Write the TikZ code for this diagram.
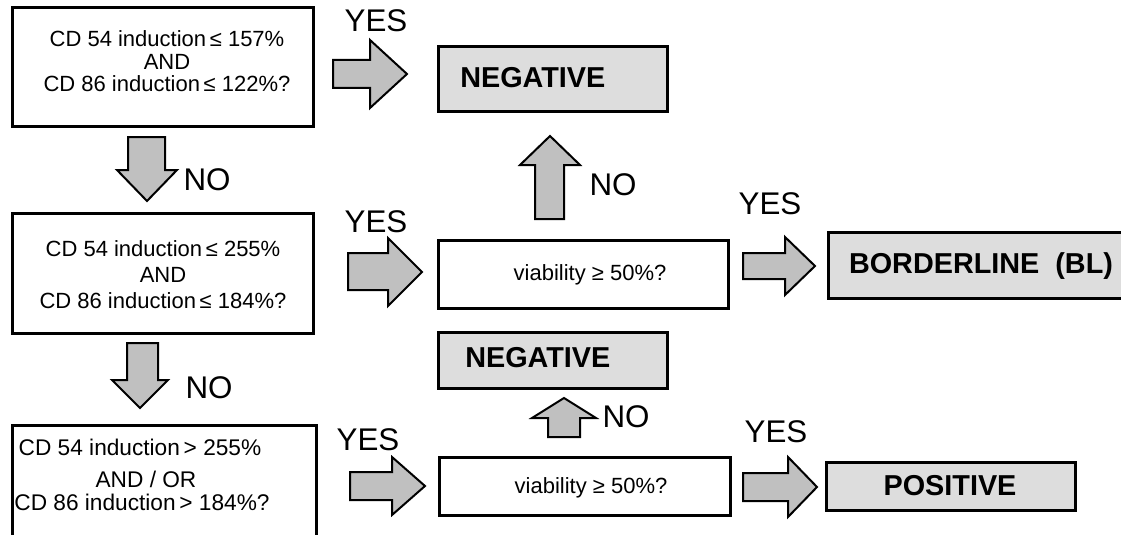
\documentclass[tikz,border=0pt]{standalone}
\usepackage{fontspec}
\setmainfont{Liberation Sans}
\usetikzlibrary{fit}
\definecolor{arrowgray}{HTML}{C0C0C0}
\definecolor{resgray}{HTML}{DDDDDD}
\begin{document}
\begin{tikzpicture}[x=0.75pt,y=-0.75pt,
  qbox/.style={draw, line width=2.25pt, fill=white, inner sep=0pt},
  rbox/.style={draw, line width=2.25pt, fill=resgray, inner sep=0pt},
  qtxt/.style={font=\fontsize{16.5}{19}\selectfont, inner sep=0pt, anchor=base},
  qtxtb/.style={font=\fontsize{17}{20}\selectfont, inner sep=0pt, anchor=base},
  rtxt/.style={font=\fontsize{21.6}{25}\selectfont\bfseries, inner sep=0pt, anchor=base},
  yn/.style={font=\fontsize{23.5}{28}\selectfont, inner sep=0pt, anchor=base},
  barrow/.style={draw, fill=arrowgray, line width=1.5pt, line join=miter}]
\useasboundingbox (0,0) rectangle (1121,535);
\clip (0,0) rectangle (1121,535);

% question boxes
\node[qbox, fit={(12,8) (313,126)}] (q1) {};
\node[qtxt] (q1a) at (167,47) {CD 54 induction\,≤ 157\%};
\node[qtxt] (q1b) at (167,69.5) {AND};
\node[qtxt] (q1c) at (167,92) {CD 86 induction\,≤ 122\%?};

\node[qbox, fit={(12,213) (313,333)}] (q2) {};
\node[qtxt] (q2a) at (163,256) {CD 54 induction\,≤ 255\%};
\node[qtxt] (q2b) at (163,282) {AND};
\node[qtxt] (q2c) at (163,308) {CD 86 induction\,≤ 184\%?};

\node[qbox, fit={(12,425) (316,560)}] (q3) {};
\node[qtxtb] (q3a) at (140,455) {CD 54 induction\,> 255\%};
\node[qtxtb] (q3b) at (146,487) {AND / OR};
\node[qtxtb] (q3c) at (142,510) {CD 86 induction\,> 184\%?};

% viability boxes
\node[qbox, fit={(438,240) (728,308)}] (v1) {};
\node[qtxt] (v1t) at (590,280) {viability ≥ 50\%?};
\node[qbox, fit={(439,457) (730,515)}] (v2) {};
\node[qtxt] (v2t) at (591,493) {viability ≥ 50\%?};

% result boxes
\node[rbox, fit={(438,47) (667,112)}] (n1) {};
\node[rtxt, anchor=base west] (n1t) at (460,88) {NEGATIVE};
\node[rbox, fit={(828,232) (1135,298)}] (bl) {};
\node[rtxt] (blt) at (981,273) {BORDERLINE\ \ (BL)};
\node[rbox, fit={(438,332) (667,388)}] (n2) {};
\node[rtxt, anchor=base west] (n2t) at (465,367) {NEGATIVE};
\node[rbox, fit={(826,462) (1075,510)}] (pos) {};
\node[rtxt] (post) at (950,495) {POSITIVE};

% block arrows
\draw[barrow] (333,60)--(370,60)--(370,40)--(407,74)--(370,108)--(370,88)--(333,88)--cycle;
\draw[barrow] (128,137)--(165,137)--(165,170)--(177,170)--(147,201)--(117,170)--(128,170)--cycle;
\draw[barrow] (348,253)--(388,253)--(388,238)--(422,272)--(388,306)--(388,290)--(348,290)--cycle;
\draw[barrow] (535,219)--(535,165)--(520,165)--(550,136)--(580,165)--(564,165)--(564,219)--cycle;
\draw[barrow] (743,253)--(785,253)--(785,237)--(815,266)--(785,295)--(785,279)--(743,279)--cycle;
\draw[barrow] (127,343)--(158,343)--(158,380)--(168,380)--(140,408)--(112,380)--(127,380)--cycle;
\draw[barrow] (548,437)--(548,418)--(532,418)--(564,398)--(596,418)--(580,418)--(580,437)--cycle;
\draw[barrow] (743,473)--(788,473)--(788,457)--(817,487)--(788,517)--(788,501)--(743,501)--cycle;
\draw[barrow] (350,472)--(392,472)--(392,457)--(425,486)--(392,515)--(392,500)--(350,500)--cycle;

% labels
\node[yn] (y1) at (376,32) {YES};
\node[yn] (no1) at (207,190) {NO};
\node[yn] (y2) at (376,232) {YES};
\node[yn] (no2) at (613,195) {NO};
\node[yn] (y3) at (770,214) {YES};
\node[yn] (no3) at (209,398) {NO};
\node[yn] (no4) at (626,427) {NO};
\node[yn] (y5) at (368,450) {YES};
\node[yn] (y4) at (776,442) {YES};
\end{tikzpicture}
\end{document}
